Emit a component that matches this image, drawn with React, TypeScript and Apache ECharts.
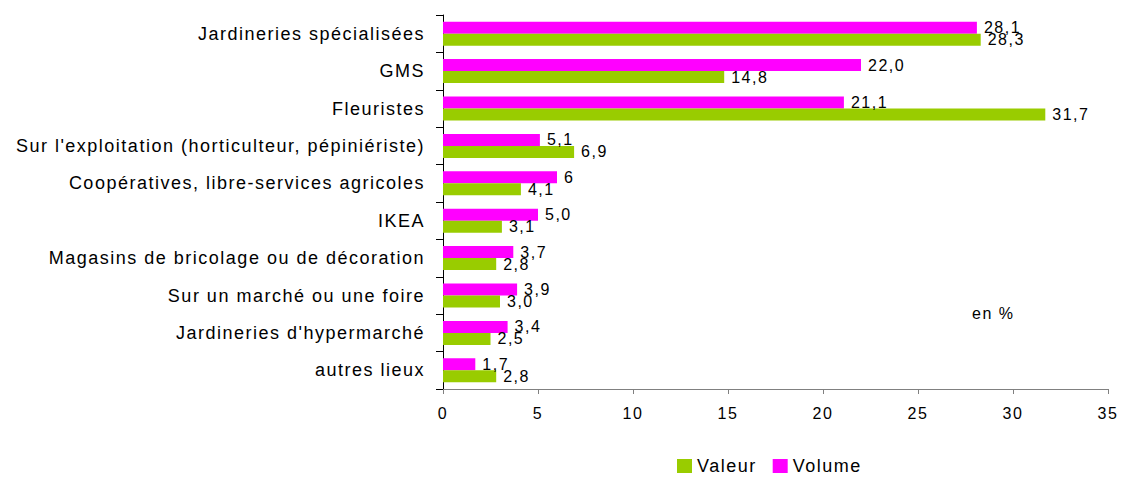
import { useEffect, useRef } from 'react';
import * as echarts from 'echarts';

const categories = [
  'Jardineries spécialisées',
  'GMS',
  'Fleuristes',
  "Sur l'exploitation (horticulteur, pépiniériste)",
  'Coopératives, libre-services agricoles',
  'IKEA',
  'Magasins de bricolage ou de décoration',
  'Sur un marché ou une foire',
  "Jardineries d'hypermarché",
  'autres lieux',
];

const volumeValues = [28.1, 22.0, 21.1, 5.1, 6, 5.0, 3.7, 3.9, 3.4, 1.7];
const valeurValues = [28.3, 14.8, 31.7, 6.9, 4.1, 3.1, 2.8, 3.0, 2.5, 2.8];
const volumeLabels = ['28,1', '22,0', '21,1', '5,1', '6', '5,0', '3,7', '3,9', '3,4', '1,7'];
const valeurLabels = ['28,3', '14,8', '31,7', '6,9', '4,1', '3,1', '2,8', '3,0', '2,5', '2,8'];
const legendNames = ['Valeur', 'Volume'];
const unitNote = 'en %';

const FONT = '"Liberation Sans", Arial, Helvetica, sans-serif';

export default function App() {
  const ref = useRef<HTMLDivElement>(null);

  useEffect(() => {
    if (!ref.current) return;
    const chart = echarts.init(ref.current, undefined, { renderer: 'svg' });
    chart.setOption({
      animation: false,
      textStyle: { fontFamily: FONT, color: '#000' },
      grid: { left: 443, right: 13, top: 15, bottom: 88, containLabel: false },
      legend: {
        data: legendNames,
        left: 677,
        top: 457,
        padding: 0,
        itemWidth: 15,
        itemHeight: 14,
        itemGap: 25,
        icon: 'rect',
        textStyle: { fontSize: 18, color: '#000', fontFamily: FONT },
      },
      xAxis: {
        type: 'value',
        min: 0,
        max: 35,
        interval: 5,
        axisLine: { show: true, lineStyle: { color: '#808080', width: 1 } },
        axisTick: { show: true, length: 5, lineStyle: { color: '#808080' } },
        splitLine: { show: false },
        axisLabel: { fontSize: 16, color: '#000', margin: 16, fontFamily: FONT },
      },
      yAxis: {
        type: 'category',
        inverse: true,
        data: categories,
        axisLine: { show: true, lineStyle: { color: '#000', width: 1 } },
        axisTick: { show: true, length: 7, alignWithLabel: false, lineStyle: { color: '#000' } },
        axisLabel: { fontSize: 18, color: '#000', margin: 18, fontFamily: FONT },
      },
      graphic: [
        {
          type: 'text',
          left: 972,
          top: 305,
          style: { text: unitNote, fontSize: 16, fill: '#000', fontFamily: FONT },
        },
      ],
      series: [
        {
          name: 'Volume',
          type: 'bar',
          data: volumeValues,
          barWidth: 12,
          barGap: '0%',
          itemStyle: { color: '#FF00FF' },
          label: {
            show: true,
            position: 'right',
            distance: 7,
            fontSize: 16,
            color: '#000',
            fontFamily: FONT,
            formatter: (p: any) => volumeLabels[p.dataIndex],
          },
        },
        {
          name: 'Valeur',
          type: 'bar',
          data: valeurValues,
          barWidth: 12,
          barGap: '0%',
          itemStyle: { color: '#99CC00' },
          label: {
            show: true,
            position: 'right',
            distance: 7,
            fontSize: 16,
            color: '#000',
            fontFamily: FONT,
            formatter: (p: any) => valeurLabels[p.dataIndex],
          },
        },
      ],
    });
    return () => chart.dispose();
  }, []);

  return (
    <>
      <style>{`.chart-root text { letter-spacing: 1.5px; }`}</style>
      <div
        ref={ref}
        className="chart-root"
        style={{ position: 'absolute', left: 0, top: 0, width: 1121, height: 477, background: '#fff' }}
      />
    </>
  );
}
